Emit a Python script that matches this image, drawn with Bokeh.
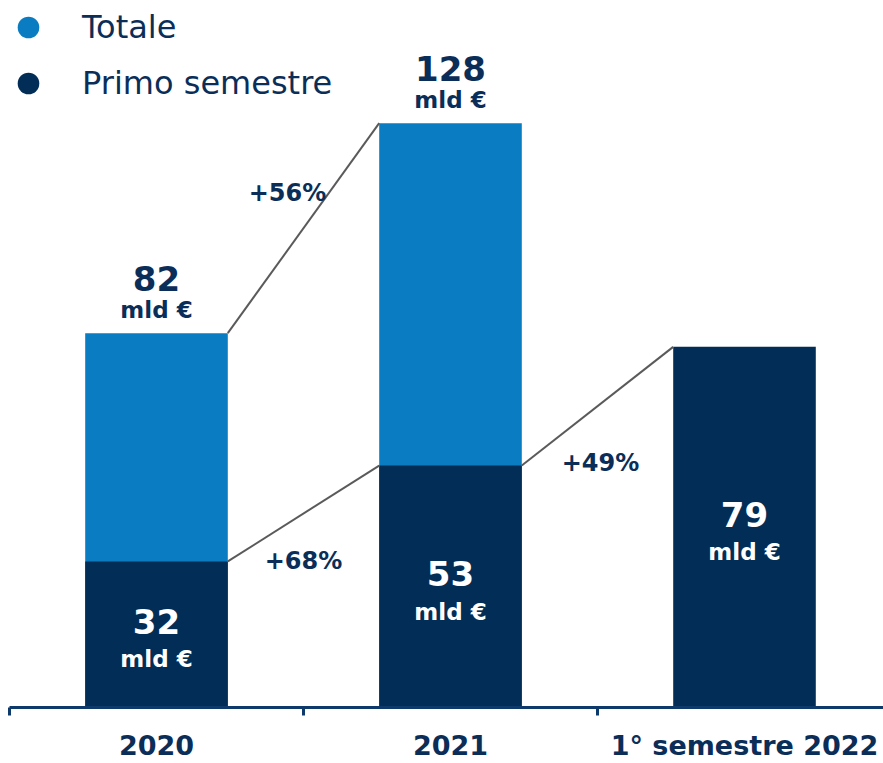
from bokeh.plotting import figure
from bokeh.models import ColumnDataSource, FixedTicker, Legend, LegendItem
from bokeh.core.properties import value
from bokeh.embed import file_html
from bokeh.resources import INLINE

# ---- data ----
categories = ["2020", "2021", "1° semestre 2022"]
totale = [82, 128]            # Totale (2020, 2021)
primo_semestre = [32, 53, 79]  # Primo semestre (2020, 2021, 2022)
growth_labels = ["+56%", "+68%", "+49%"]
growth_from = [("totale", 0), ("primo", 0), ("primo", 1)]
growth_to = [("totale", 1), ("primo", 1), ("primo", 2)]
unit_label = "mld €"
legend_labels = ["Totale", "Primo semestre"]

# ---- styles ----
C_LIGHT = "#0a7cc1"
C_DARK = "#022d56"
C_TEXT = "#0b2e59"
C_AXIS = "#0e3a6b"
C_LINE = "#5a5a5a"
FONT = value("DejaVu Sans")
BAR_W = 0.485
growth_dx = [-16, 0, 3]
growth_dy = [-35, 48, 57]

xs = [i + 0.5 for i in range(len(categories))]
series = {"totale": totale, "primo": primo_semestre}

p = figure(width=883, height=763, output_backend="svg", toolbar_location=None,
           x_range=(-9 / 294, 874 / 294), y_range=(0, 707 / 4.565),
           min_border_left=0, min_border_right=0, min_border_top=0,
           min_border_bottom=56)
p.outline_line_color = None
p.grid.visible = False
p.yaxis.visible = False
p.background_fill_color = "white"
p.border_fill_color = "white"

# bars
tot_src = ColumnDataSource(dict(x=xs[:len(totale)], top=totale))
pri_src = ColumnDataSource(dict(x=xs, top=primo_semestre))
p.vbar(x="x", top="top", width=BAR_W, source=tot_src, fill_color=C_LIGHT, line_color=None)
p.vbar(x="x", top="top", width=BAR_W, source=pri_src, fill_color=C_DARK, line_color=None)

# connecting lines and growth labels
x0s, y0s, x1s, y1s, gx, gy = [], [], [], [], [], []
for (sa, ia), (sb, ib) in zip(growth_from, growth_to):
    x0 = xs[ia] + BAR_W / 2
    y0 = series[sa][ia]
    x1 = xs[ib] - BAR_W / 2
    y1 = series[sb][ib]
    x0s.append(x0); y0s.append(y0); x1s.append(x1); y1s.append(y1)
    gx.append((x0 + x1) / 2); gy.append((y0 + y1) / 2)
p.segment(x0=x0s, y0=y0s, x1=x1s, y1=y1s, line_color=C_LINE, line_width=2)
p.text(x=gx, y=gy, text=growth_labels, x_offset=growth_dx, y_offset=growth_dy,
       text_font=FONT, text_font_style="bold", text_font_size="24px",
       text_color=C_TEXT, text_align="center", text_baseline="middle")

# total labels above light bars
p.text(x=xs[:len(totale)], y=totale, text=[str(v) for v in totale], y_offset=-55,
       text_font=FONT, text_font_style="bold", text_font_size="34px",
       text_color=C_TEXT, text_align="center", text_baseline="middle")
p.text(x=xs[:len(totale)], y=totale, text=[unit_label] * len(totale), y_offset=-23,
       text_font=FONT, text_font_style="bold", text_font_size="23px",
       text_color=C_TEXT, text_align="center", text_baseline="middle")

# first-half labels inside dark bars
half = [v / 2 for v in primo_semestre]
p.text(x=xs, y=half, text=[str(v) for v in primo_semestre], y_offset=-13,
       text_font=FONT, text_font_style="bold", text_font_size="34px",
       text_color="white", text_align="center", text_baseline="middle")
p.text(x=xs, y=half, text=[unit_label] * len(xs), y_offset=25,
       text_font=FONT, text_font_style="bold", text_font_size="23px",
       text_color="white", text_align="center", text_baseline="middle")

# x axis
ax = p.xaxis[0]
ax.ticker = FixedTicker(ticks=xs, minor_ticks=list(range(len(categories) + 1)))
ax.bounds = (0, len(categories))
ax.major_label_overrides = {x: c for x, c in zip(xs, categories)}
ax.major_tick_out = 0
ax.major_tick_in = 0
ax.minor_tick_out = 8
ax.minor_tick_in = 0
ax.minor_tick_line_width = 3
ax.minor_tick_line_color = C_AXIS
ax.axis_line_width = 3
ax.axis_line_color = C_AXIS
ax.major_label_standoff = 14
ax.major_label_text_font = "DejaVu Sans"
ax.major_label_text_font_style = "bold"
ax.major_label_text_font_size = "27px"
ax.major_label_text_color = C_TEXT

# legend
nan = float("nan")
r1 = p.scatter(x=[nan], y=[nan], marker="circle", fill_color=C_LIGHT, line_color=None)
r2 = p.scatter(x=[nan], y=[nan], marker="circle", fill_color=C_DARK, line_color=None)
legend = Legend(items=[LegendItem(label=legend_labels[0], renderers=[r1]),
                       LegendItem(label=legend_labels[1], renderers=[r2])],
                location="top_left", orientation="vertical",
                glyph_width=56, glyph_height=54, label_height=54,
                label_standoff=26, spacing=2, margin=0, padding=0,
                border_line_color=None, background_fill_alpha=0,
                label_text_font="DejaVu Sans", label_text_font_size="32px",
                label_text_color=C_TEXT)
p.add_layout(legend)

open("out.html", "w").write(file_html(p, INLINE))
